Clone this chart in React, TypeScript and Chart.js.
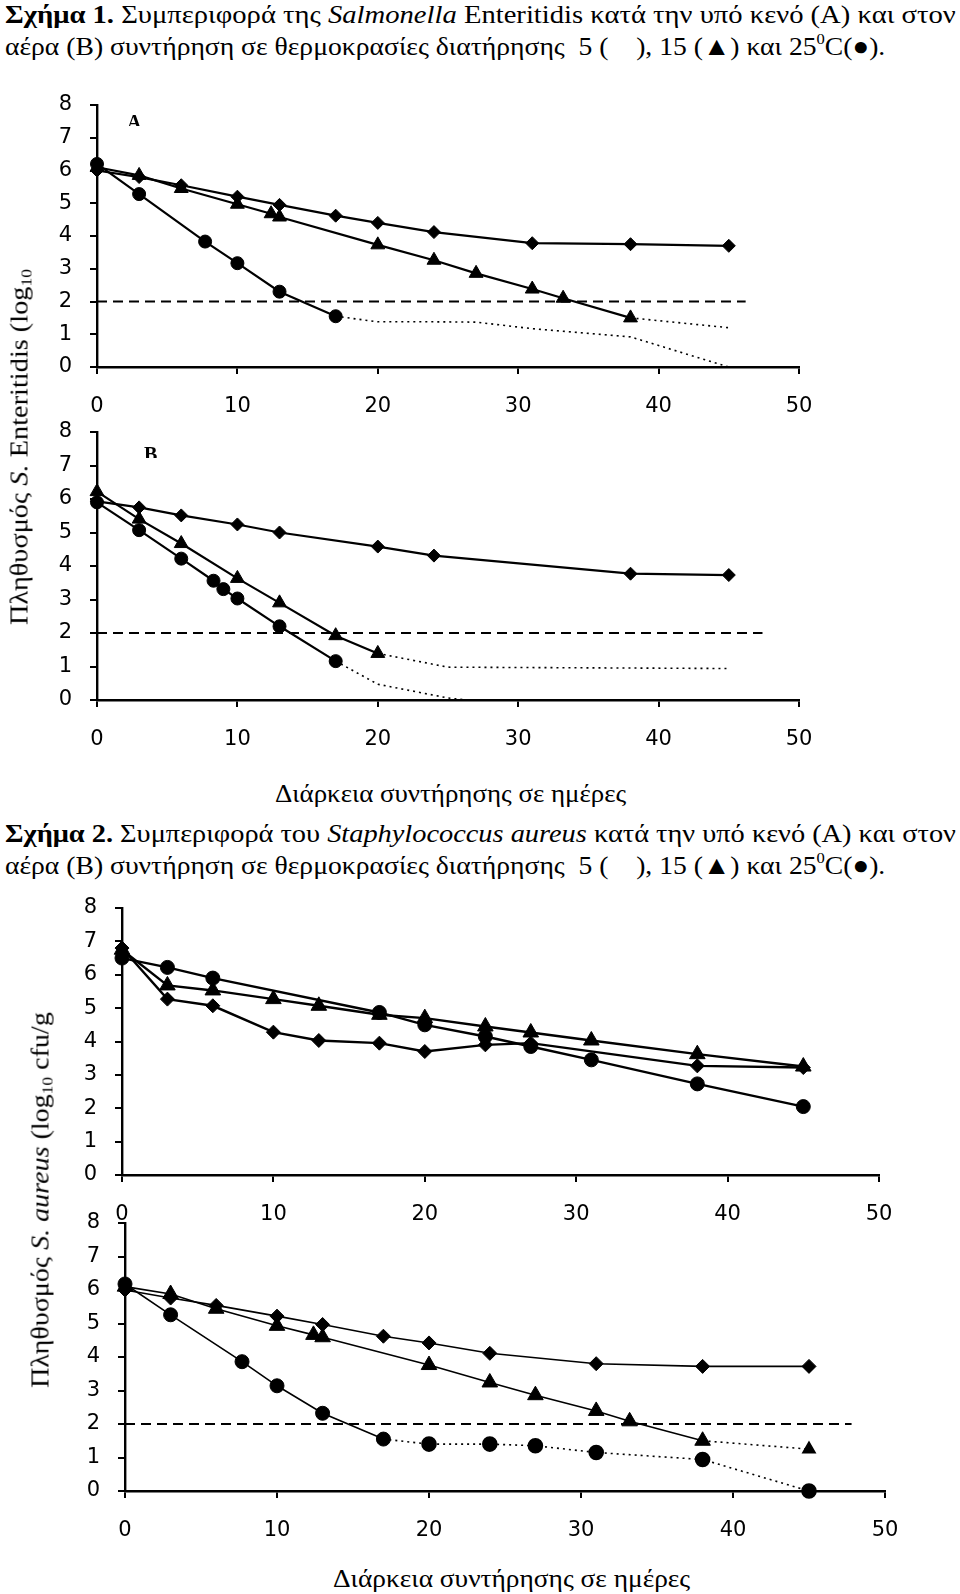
import React, { useEffect, useLayoutEffect, useRef } from 'react';
import { Chart, registerables } from 'chart.js';
Chart.register(...registerables);

// ---------- Data ----------
// Figure 1A (Salmonella, vacuum)
const days1A_5C = [0, 3, 6, 10, 13, 17, 20, 24, 31, 38, 45];
const logs1A_5C = [6.0, 5.8, 5.55, 5.2, 4.95, 4.62, 4.4, 4.12, 3.78, 3.75, 3.7];
const days1A_15C = [0, 3, 6, 10, 12.4, 13, 20, 24, 27, 31, 33.2, 38];
const logs1A_15C = [6.1, 5.85, 5.45, 4.97, 4.68, 4.58, 3.73, 3.26, 2.86, 2.38, 2.1, 1.5];
const days1A_15C_dot = [38, 45];
const logs1A_15C_dot = [1.5, 1.2];
const days1A_25C = [0, 3, 7.7, 10, 13, 17];
const logs1A_25C = [6.2, 5.28, 3.83, 3.17, 2.3, 1.55];
const days1A_25C_dot = [17, 20, 24, 27, 31, 38, 45];
const logs1A_25C_dot = [1.55, 1.38, 1.38, 1.37, 1.17, 0.92, 0];
const limit1A = [0, 46.2];

// Figure 1B (Salmonella, air)
const days1B_5C = [0, 3, 6, 10, 13, 20, 24, 38, 45];
const logs1B_5C = [5.93, 5.75, 5.51, 5.24, 5.0, 4.58, 4.31, 3.77, 3.73];
const days1B_15C = [0, 3, 6, 10, 13, 17, 20];
const logs1B_15C = [6.22, 5.4, 4.67, 3.63, 2.9, 1.92, 1.39];
const days1B_15C_dot = [20, 25, 45];
const logs1B_15C_dot = [1.39, 0.98, 0.94];
const days1B_25C = [0, 3, 6, 8.3, 9, 10, 13, 17];
const logs1B_25C = [5.9, 5.07, 4.22, 3.56, 3.31, 3.03, 2.2, 1.16];
const days1B_25C_dot = [17, 20, 25, 26.3];
const logs1B_25C_dot = [1.16, 0.47, 0.06, 0];
const limit1B = [0, 47.4];

// Figure 2A (S. aureus, vacuum)
const days2A_5C = [0, 3, 6, 10, 13, 17, 20, 24, 27, 38, 45];
const logs2A_5C = [6.8, 5.27, 5.07, 4.28, 4.03, 3.95, 3.7, 3.9, 3.95, 3.27, 3.22];
const days2A_15C = [0, 3, 6, 10, 13, 17, 20, 24, 27, 31, 38, 45];
const logs2A_15C = [6.75, 5.68, 5.53, 5.27, 5.07, 4.8, 4.7, 4.45, 4.27, 4.03, 3.62, 3.25];
const days2A_25C = [0, 3, 6, 17, 20, 24, 27, 31, 38, 45];
const logs2A_25C = [6.5, 6.22, 5.9, 4.87, 4.5, 4.15, 3.85, 3.45, 2.73, 2.05];

// Figure 2B (S. aureus, air)
const days2B_5C = [0, 3, 6, 10, 13, 17, 20, 24, 31, 38, 45];
const logs2B_5C = [6.0, 5.76, 5.54, 5.22, 4.97, 4.62, 4.42, 4.11, 3.8, 3.72, 3.72];
const days2B_15C = [0, 3, 6, 10, 12.4, 13, 20, 24, 27, 31, 33.2, 38];
const logs2B_15C = [6.1, 5.88, 5.44, 4.93, 4.66, 4.59, 3.76, 3.24, 2.86, 2.39, 2.08, 1.5];
const days2B_15C_dot = [38, 45];
const logs2B_15C_dot = [1.5, 1.25];
const days2B_25C = [0, 3, 7.7, 10, 13, 17];
const logs2B_25C = [6.18, 5.26, 3.86, 3.14, 2.32, 1.55];
const days2B_25C_dot = [17, 20, 24, 27, 31, 38, 45];
const logs2B_25C_dot = [1.55, 1.4, 1.4, 1.35, 1.15, 0.94, 0];
const limit2B = [0, 47.8];

const limitLevel = 2;
const xTicks = [0, 10, 20, 30, 40, 50];
const yTicks = [0, 1, 2, 3, 4, 5, 6, 7, 8];

// ---------- helpers ----------
const pts = (xs: number[], ys: number[]) => xs.map((x, i) => ({ x, y: ys[i] }));

function solid(xs: number[], ys: number[], style: string, r: number, lw: number) {
  return {
    data: pts(xs, ys), showLine: true, borderColor: '#000', backgroundColor: '#000',
    borderWidth: lw, pointStyle: style, pointRadius: r, pointBorderWidth: 1,
    pointBorderColor: '#000', pointBackgroundColor: '#000', tension: 0, clip: false,
  };
}
function dotted(xs: number[], ys: number[], style: string, r: number) {
  return {
    data: pts(xs, ys), showLine: true, borderColor: '#000', backgroundColor: '#000',
    borderWidth: 1.6, borderDash: [2, 4], pointStyle: style, pointRadius: r,
    pointBackgroundColor: '#000', pointBorderColor: '#000', tension: 0, clip: false,
  };
}
function limit(xs: number[]) {
  return {
    data: xs.map((x) => ({ x, y: limitLevel })), showLine: true, borderColor: '#000',
    borderWidth: 2.2, borderDash: [10, 6], pointRadius: 0, clip: false,
  };
}

const TICK_FONT = { family: 'DejaVu Sans', size: 21 };
const SERIF = '"Liberation Serif", "Times New Roman", Times, serif';

function Plot(props: any) {
  const { left, top, width, height, yW, xH, padTop, padRight, datasets } = props;
  const ref = useRef<HTMLCanvasElement>(null);
  useEffect(() => {
    const grid = { display: true, drawOnChartArea: false, drawTicks: true, tickLength: 7, color: '#000', lineWidth: 2 };
    const chart = new Chart(ref.current as HTMLCanvasElement, {
      type: 'scatter',
      data: { datasets },
      options: {
        animation: false, responsive: false, maintainAspectRatio: false,
        layout: { padding: { top: padTop, right: padRight, left: 0, bottom: 0 } },
        plugins: { legend: { display: false }, tooltip: { enabled: false } },
        scales: {
          x: {
            type: 'linear', min: xTicks[0], max: xTicks[xTicks.length - 1],
            afterBuildTicks: (s: any) => { s.ticks = xTicks.map((v) => ({ value: v })); },
            ticks: { color: '#000', font: TICK_FONT, padding: 20, maxRotation: 0 },
            grid, border: { display: true, color: '#000', width: 2.4 },
            afterFit: (s: any) => { s.height = xH; s.paddingLeft = 0; s.paddingRight = 0; },
          },
          y: {
            type: 'linear', min: yTicks[0], max: yTicks[yTicks.length - 1],
            afterBuildTicks: (s: any) => { s.ticks = yTicks.map((v) => ({ value: v })); },
            ticks: { color: '#000', font: TICK_FONT, padding: 18 },
            grid, border: { display: true, color: '#000', width: 2.4 },
            afterFit: (s: any) => { s.width = yW; s.paddingTop = 0; s.paddingBottom = 0; },
          },
        },
      } as any,
    } as any);
    return () => chart.destroy();
  }, []);
  return (
    <canvas ref={ref} width={width} height={height}
      style={{ position: 'absolute', left, top, width, height }} />
  );
}

function Txt(props: any) {
  const { x, y, w, size, rot, children } = props;
  const ref = useRef<HTMLDivElement>(null);
  useLayoutEffect(() => {
    const el = ref.current!;
    const nat = el.offsetWidth;
    const k = w / nat;
    el.style.transform = rot
      ? `translate(-50%,-50%) rotate(-90deg) scaleX(${k})`
      : `translate(0,-50%) scaleX(${k})`;
  }, []);
  return (
    <div ref={ref} style={{
      position: 'absolute', left: x, top: y, whiteSpace: 'nowrap',
      fontFamily: SERIF, fontSize: size, lineHeight: 1,
      transformOrigin: rot ? '50% 50%' : '0 50%', color: '#000',
    }}>{children}</div>
  );
}

const supS: any = { fontSize: '0.6em', lineHeight: 0, verticalAlign: '0.7em' };
const subS: any = { fontSize: '0.62em', lineHeight: 0, verticalAlign: '-0.25em' };

function Letter(props: any) {
  const { x, y, ch } = props;
  return (
    <div style={{ position: 'absolute', left: x, top: y, height: 11, width: 20, overflow: 'hidden' }}>
      <div style={{ fontFamily: SERIF, fontWeight: 'bold', fontSize: 20, lineHeight: '20px', marginTop: -3 }}>{ch}</div>
    </div>
  );
}

export default function App() {
  const ds1A = [
    solid(days1A_5C, logs1A_5C, 'rectRot', 6.5, 2.2),
    solid(days1A_15C, logs1A_15C, 'triangle', 8, 2.2),
    dotted(days1A_15C_dot, logs1A_15C_dot, 'triangle', 0),
    solid(days1A_25C, logs1A_25C, 'circle', 6.5, 2.2),
    dotted(days1A_25C_dot, logs1A_25C_dot, 'circle', 0),
    limit(limit1A),
  ];
  const ds1B = [
    solid(days1B_5C, logs1B_5C, 'rectRot', 6.5, 2.2),
    solid(days1B_15C, logs1B_15C, 'triangle', 8, 2.2),
    dotted(days1B_15C_dot, logs1B_15C_dot, 'triangle', 0),
    solid(days1B_25C, logs1B_25C, 'circle', 6.5, 2.2),
    dotted(days1B_25C_dot, logs1B_25C_dot, 'circle', 0),
    limit(limit1B),
  ];
  const ds2A = [
    solid(days2A_5C, logs2A_5C, 'rectRot', 7, 2.4),
    solid(days2A_15C, logs2A_15C, 'triangle', 9, 2.4),
    solid(days2A_25C, logs2A_25C, 'circle', 7, 2.4),
  ];
  const ds2B = [
    solid(days2B_5C, logs2B_5C, 'rectRot', 7, 1.6),
    solid(days2B_15C, logs2B_15C, 'triangle', 9, 1.6),
    { ...dotted(days2B_15C_dot, logs2B_15C_dot, 'triangle', 0), pointRadius: [0, 7] },
    solid(days2B_25C, logs2B_25C, 'circle', 7, 1.6),
    { ...dotted(days2B_25C_dot, logs2B_25C_dot, 'circle', 7), pointRadius: [0, 7, 7, 7, 7, 7, 7] },
    limit(limit2B),
  ];

  return (
    <div style={{ position: 'absolute', left: 0, top: 0, width: 960, height: 1594, background: '#fff', overflow: 'hidden' }}>
      <Txt x={5} y={15} w={951} size={26}>
        <b>Σχήμα 1.</b> Συμπεριφορά της <i>Salmonella</i> Enteritidis κατά την υπό κενό (Α) και στον
      </Txt>
      <Txt x={5} y={47} w={880} size={26}>
        αέρα (Β) συντήρηση σε θερμοκρασίες διατήρησης&nbsp; 5 (&nbsp;&nbsp;&nbsp; ), 15 (▲) και 25<span style={supS}>0</span>C(●).
      </Txt>

      <Plot left={20} top={90} width={804} height={332} yW={77} xH={55} padTop={15} padRight={25} datasets={ds1A} />
      <Plot left={20} top={420} width={804} height={335} yW={77} xH={55} padTop={12} padRight={25} datasets={ds1B} />
      <Letter x={127} y={115} ch="A" />
      <Letter x={144} y={447} ch="B" />

      <Txt x={19} y={447} w={356} size={25} rot>
        Πληθυσμός <i>S.</i> Enteritidis (log<span style={subS}>10</span>
      </Txt>
      <Txt x={275} y={793} w={351} size={25}>Διάρκεια συντήρησης σε ημέρες</Txt>

      <Txt x={5} y={834} w={951} size={26}>
        <b>Σχήμα 2.</b> Συμπεριφορά του <i>Staphylococcus aureus</i> κατά την υπό κενό (Α) και στον
      </Txt>
      <Txt x={5} y={866} w={880} size={26}>
        αέρα (Β) συντήρηση σε θερμοκρασίες διατήρησης&nbsp; 5 (&nbsp;&nbsp;&nbsp; ), 15 (▲) και 25<span style={supS}>0</span>C(●).
      </Txt>

      <Plot left={40} top={895} width={864} height={335} yW={82} xH={55} padTop={13} padRight={25} datasets={ds2A} />
      <Plot left={40} top={1210} width={870} height={336} yW={85} xH={55} padTop={13} padRight={25} datasets={ds2B} />

      <Txt x={40} y={1200} w={376} size={25} rot>
        Πληθυσμός <i>S. aureus</i> (log<span style={subS}>10</span> cfu/g
      </Txt>
      <Txt x={333} y={1578} w={357} size={25}>Διάρκεια συντήρησης σε ημέρες</Txt>
    </div>
  );
}
